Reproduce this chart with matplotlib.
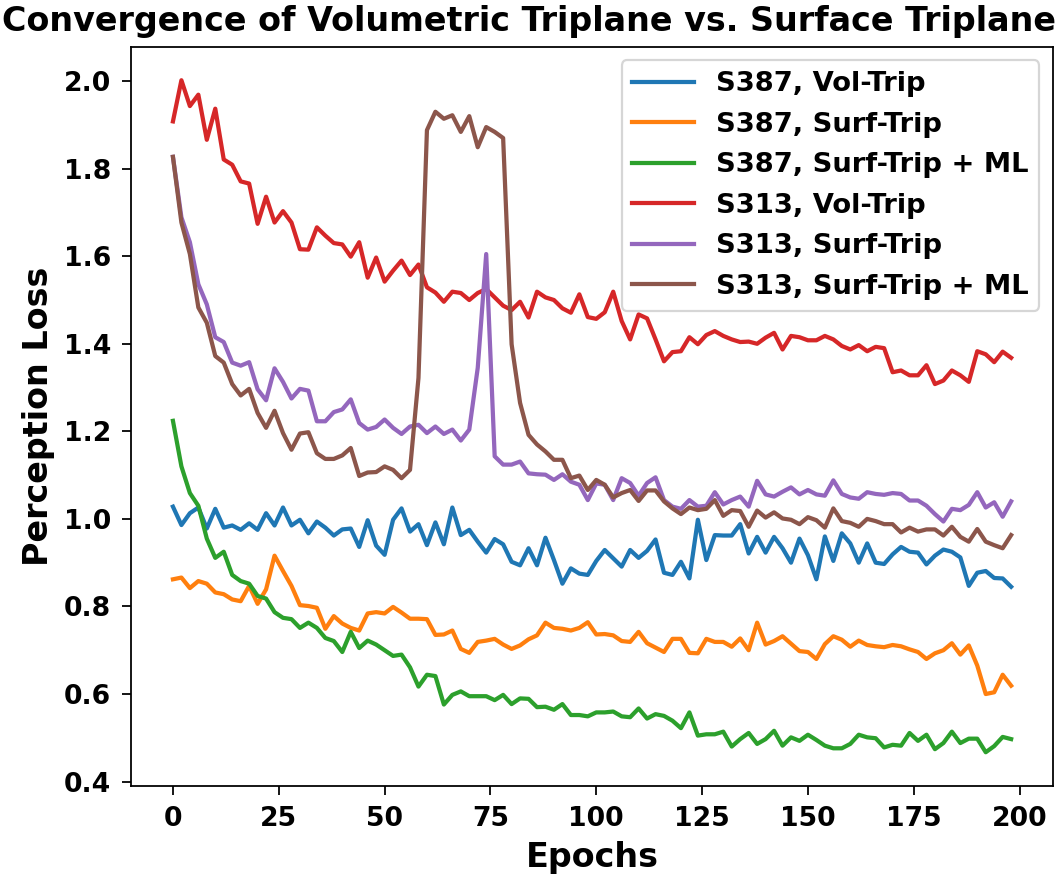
import numpy as np
import matplotlib
matplotlib.use("Agg")
import matplotlib.pyplot as plt

plt.rcParams['font.weight'] = 'bold'
plt.rcParams['axes.labelweight'] = 'bold'
plt.rcParams['axes.titleweight'] = 'bold'

# logged every 2 epochs
epochs = np.arange(0, 200, 2)

s387_vol = [1.028, 0.986, 1.013, 1.026, 0.978, 1.023, 0.980, 0.985, 0.975, 0.990,
            0.975, 1.013, 0.985, 1.026, 0.985, 0.998, 0.967, 0.994, 0.980, 0.962,
            0.976, 0.978, 0.936, 0.997, 0.939, 0.918, 0.998, 1.024, 0.971, 0.988,
            0.940, 0.992, 0.942, 1.026, 0.963, 0.975, 0.948, 0.923, 0.954, 0.942,
            0.902, 0.894, 0.933, 0.894, 0.957, 0.906, 0.852, 0.887, 0.875, 0.872,
            0.904, 0.929, 0.910, 0.891, 0.929, 0.911, 0.927, 0.953, 0.877, 0.872,
            0.902, 0.864, 0.998, 0.906, 0.963, 0.962, 0.962, 0.988, 0.921, 0.959,
            0.923, 0.959, 0.933, 0.900, 0.955, 0.917, 0.862, 0.960, 0.904, 0.967,
            0.944, 0.900, 0.944, 0.900, 0.897, 0.919, 0.936, 0.925, 0.923, 0.896,
            0.916, 0.930, 0.925, 0.912, 0.847, 0.877, 0.881, 0.865, 0.864, 0.845]

s387_surf = [0.862, 0.866, 0.842, 0.858, 0.852, 0.832, 0.828, 0.816, 0.812, 0.847,
             0.806, 0.839, 0.916, 0.881, 0.847, 0.803, 0.801, 0.797, 0.749, 0.778,
             0.761, 0.751, 0.745, 0.784, 0.787, 0.784, 0.799, 0.786, 0.772, 0.772,
             0.771, 0.735, 0.736, 0.745, 0.703, 0.694, 0.719, 0.722, 0.726, 0.713,
             0.703, 0.711, 0.725, 0.734, 0.763, 0.751, 0.749, 0.745, 0.751, 0.764,
             0.736, 0.737, 0.734, 0.721, 0.719, 0.742, 0.716, 0.706, 0.696, 0.726,
             0.726, 0.694, 0.693, 0.726, 0.719, 0.719, 0.708, 0.727, 0.700, 0.763,
             0.713, 0.721, 0.732, 0.715, 0.698, 0.696, 0.680, 0.714, 0.732, 0.724,
             0.708, 0.722, 0.712, 0.709, 0.707, 0.712, 0.709, 0.702, 0.696, 0.680,
             0.693, 0.700, 0.716, 0.690, 0.711, 0.665, 0.600, 0.604, 0.644, 0.619]

s387_surf_ml = [1.224, 1.120, 1.059, 1.030, 0.955, 0.911, 0.925, 0.872, 0.858, 0.852,
                0.824, 0.818, 0.787, 0.774, 0.771, 0.751, 0.763, 0.751, 0.728, 0.721,
                0.696, 0.742, 0.705, 0.722, 0.713, 0.700, 0.687, 0.690, 0.661, 0.617,
                0.644, 0.641, 0.576, 0.598, 0.606, 0.595, 0.595, 0.595, 0.586, 0.598,
                0.577, 0.590, 0.589, 0.570, 0.571, 0.564, 0.577, 0.552, 0.552, 0.549,
                0.558, 0.558, 0.560, 0.549, 0.547, 0.567, 0.544, 0.554, 0.550, 0.539,
                0.522, 0.558, 0.505, 0.508, 0.508, 0.514, 0.480, 0.497, 0.511, 0.486,
                0.497, 0.516, 0.482, 0.501, 0.493, 0.507, 0.495, 0.482, 0.476, 0.476,
                0.486, 0.507, 0.501, 0.499, 0.478, 0.484, 0.482, 0.511, 0.493, 0.507,
                0.474, 0.488, 0.514, 0.488, 0.498, 0.498, 0.467, 0.481, 0.502, 0.497]

s313_vol = [1.908, 2.002, 1.943, 1.969, 1.866, 1.937, 1.821, 1.809, 1.771, 1.766,
            1.674, 1.736, 1.677, 1.703, 1.677, 1.616, 1.615, 1.666, 1.647, 1.630,
            1.627, 1.599, 1.632, 1.551, 1.597, 1.542, 1.567, 1.590, 1.557, 1.581,
            1.529, 1.517, 1.496, 1.519, 1.516, 1.500, 1.516, 1.525, 1.506, 1.487,
            1.477, 1.496, 1.460, 1.519, 1.506, 1.500, 1.481, 1.471, 1.513, 1.461,
            1.457, 1.472, 1.519, 1.452, 1.410, 1.467, 1.458, 1.410, 1.360, 1.381,
            1.383, 1.415, 1.399, 1.420, 1.429, 1.418, 1.410, 1.404, 1.405, 1.400,
            1.414, 1.425, 1.387, 1.418, 1.415, 1.408, 1.408, 1.418, 1.410, 1.395,
            1.387, 1.397, 1.383, 1.393, 1.390, 1.335, 1.339, 1.328, 1.328, 1.351,
            1.308, 1.316, 1.339, 1.328, 1.313, 1.383, 1.376, 1.358, 1.382, 1.368]

s313_surf = [1.827, 1.689, 1.632, 1.536, 1.490, 1.415, 1.404, 1.357, 1.350, 1.358,
             1.296, 1.271, 1.344, 1.313, 1.275, 1.297, 1.293, 1.223, 1.223, 1.244,
             1.250, 1.273, 1.219, 1.204, 1.210, 1.227, 1.208, 1.194, 1.211, 1.215,
             1.196, 1.211, 1.194, 1.204, 1.179, 1.204, 1.345, 1.605, 1.143, 1.124,
             1.124, 1.131, 1.104, 1.102, 1.101, 1.089, 1.102, 1.085, 1.078, 1.043,
             1.081, 1.078, 1.043, 1.093, 1.082, 1.053, 1.082, 1.095, 1.043, 1.028,
             1.023, 1.043, 1.028, 1.030, 1.061, 1.033, 1.043, 1.051, 1.028, 1.087,
             1.056, 1.051, 1.062, 1.072, 1.056, 1.066, 1.056, 1.053, 1.088, 1.057,
             1.049, 1.046, 1.061, 1.057, 1.055, 1.059, 1.057, 1.042, 1.042, 1.030,
             1.011, 0.994, 1.023, 1.020, 1.032, 1.061, 1.026, 1.038, 1.005, 1.040]

s313_surf_ml = [1.827, 1.677, 1.605, 1.483, 1.448, 1.372, 1.357, 1.308, 1.282, 1.297,
                1.242, 1.208, 1.247, 1.196, 1.158, 1.195, 1.198, 1.150, 1.137, 1.137,
                1.145, 1.162, 1.098, 1.106, 1.107, 1.120, 1.112, 1.093, 1.112, 1.322,
                1.888, 1.930, 1.914, 1.922, 1.884, 1.920, 1.849, 1.895, 1.884, 1.870,
                1.399, 1.265, 1.192, 1.170, 1.154, 1.135, 1.135, 1.093, 1.099, 1.066,
                1.089, 1.078, 1.049, 1.059, 1.066, 1.041, 1.065, 1.065, 1.040, 1.024,
                1.011, 1.026, 1.020, 1.023, 1.043, 1.007, 1.020, 1.018, 0.982, 1.019,
                1.003, 1.015, 1.001, 0.998, 0.988, 1.004, 0.997, 0.980, 1.024, 0.995,
                0.991, 0.982, 1.000, 0.995, 0.988, 0.988, 0.969, 0.980, 0.971, 0.976,
                0.976, 0.962, 0.982, 0.959, 0.948, 0.977, 0.948, 0.940, 0.933, 0.963]

labels = ['S387, Vol-Trip', 'S387, Surf-Trip', 'S387, Surf-Trip + ML',
          'S313, Vol-Trip', 'S313, Surf-Trip', 'S313, Surf-Trip + ML']
series = [s387_vol, s387_surf, s387_surf_ml, s313_vol, s313_surf, s313_surf_ml]

fig = plt.figure(figsize=(1061 / 160, 880 / 160), dpi=160)
ax = fig.add_axes([0.1235, 0.107, 0.869, 0.84])

for vals, lab in zip(series, labels):
    ax.plot(epochs, vals, label=lab, lw=1.9)

fig.suptitle('Convergence of Volumetric Triplane vs. Surface Triplane',
             fontsize=15, fontweight='bold', x=0.499, y=0.975, va='center')
ax.set_xlabel('Epochs', fontsize=15)
ax.set_ylabel('Perception Loss', fontsize=15)
ax.tick_params(labelsize=12, length=4, pad=5)
ax.legend(loc='upper right', fontsize=12.3, handlelength=2.25, labelspacing=0.53)

fig.savefig('out.png', dpi=160)
